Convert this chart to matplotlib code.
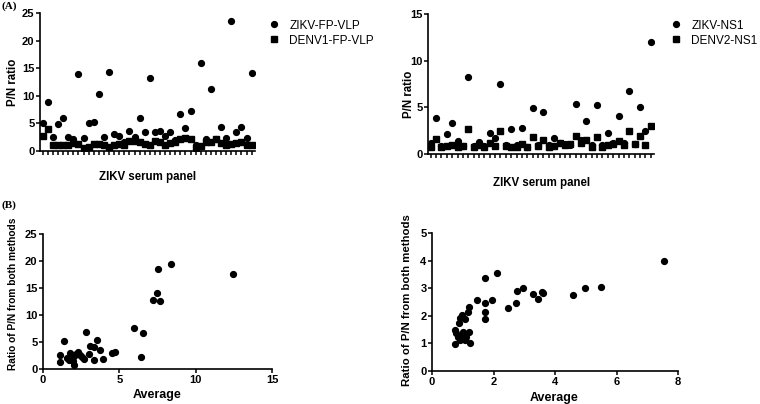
import numpy as np
import matplotlib
matplotlib.use("Agg")
import matplotlib.pyplot as plt

plt.rcParams['font.family'] = ['Liberation Sans', 'DejaVu Sans']

# (A) left: P/N ratio per ZIKV serum sample
zikv_fp_vlp = [5.1, 8.9, 2.5, 4.9, 5.9, 2.5, 2.2, 14.0, 2.3, 5.0, 5.3, 10.4, 2.5, 14.3,
               3.0, 2.7, 1.6, 3.6, 2.5, 5.9, 3.5, 13.3, 3.5, 3.6, 2.7, 3.4, 2.0, 6.7,
               4.2, 7.2, 1.0, 15.9, 2.2, 11.3, 2.2, 4.4, 2.4, 23.5, 3.5, 4.4, 2.4, 14.1]
denv1_fp_vlp = [2.7, 4.0, 1.0, 1.1, 1.1, 1.0, 1.4, 1.2, 0.5, 0.8, 1.3, 1.3, 1.1, 0.8,
                1.1, 1.2, 1.1, 1.9, 1.9, 1.7, 1.2, 1.0, 1.9, 1.7, 1.1, 1.5, 1.7, 2.2,
                2.4, 2.2, 0.6, 0.9, 1.7, 1.6, 2.2, 1.5, 1.1, 1.2, 1.4, 1.6, 1.0, 1.1]

# (A) right
zikv_ns1 = [1.2, 3.85, 0.9, 2.1, 3.3, 1.4, 0.9, 8.3, 0.9, 1.3, 0.9, 2.2, 1.7, 7.45,
            1.0, 2.65, 1.0, 2.8, 0.8, 4.9, 1.0, 4.45, 1.0, 1.7, 1.2, 1.1, 1.0, 5.35,
            1.5, 3.5, 1.0, 5.3, 1.0, 2.3, 1.2, 4.1, 1.2, 6.75, 1.1, 5.0, 2.45, 12.05]
denv2_ns1 = [0.8, 1.6, 0.7, 0.9, 1.0, 0.8, 0.9, 2.7, 0.8, 1.0, 0.8, 1.2, 0.9, 2.5,
             0.9, 0.8, 0.7, 1.1, 0.7, 1.8, 0.9, 1.5, 0.8, 0.9, 1.2, 1.0, 1.1, 1.9,
             1.2, 1.5, 0.8, 1.8, 0.8, 1.0, 1.1, 1.4, 1.0, 2.45, 1.05, 1.95, 1.0, 3.0]

# (B) left: average vs ratio
avg_vlp = [1.09, 1.09, 1.40, 1.57, 1.68, 1.79, 1.86, 2.01, 1.97, 2.05, 2.18, 2.27, 2.45,
           2.55, 2.71, 2.84, 2.99, 3.06, 3.36, 3.36, 3.54, 3.76, 3.91, 4.52, 4.74, 5.94,
           6.42, 6.55, 7.18, 7.47, 7.53, 7.66, 8.36, 12.42]
ratio_vlp = [2.53, 1.30, 5.12, 2.04, 1.73, 2.96, 2.35, 2.35, 1.42, 0.80, 2.84, 3.09, 2.53,
             2.22, 1.85, 6.85, 2.84, 4.32, 4.01, 1.60, 5.43, 3.46, 1.91, 2.96, 3.15, 7.65,
             2.22, 6.73, 12.72, 14.01, 18.52, 12.65, 19.44, 17.53]

# (B) right
avg_ns1 = [1.72, 2.13, 1.45, 1.72, 1.96, 1.72, 1.72, 1.21, 1.17, 0.99, 0.90, 1.07, 0.87,
           0.74, 0.79, 0.96, 0.90, 1.07, 1.21, 1.12, 1.23, 0.76, 1.01, 0.86, 2.48, 2.72,
           2.75, 2.97, 3.29, 3.46, 3.57, 3.62, 4.58, 4.98, 5.50, 7.55]
ratio_ns1 = [3.36, 3.54, 2.57, 2.48, 2.57, 2.15, 1.88, 2.33, 2.15, 2.03, 1.93, 1.88, 1.75,
             1.50, 1.36, 1.30, 1.14, 1.14, 1.42, 1.24, 1.02, 0.97, 1.42, 1.24, 2.29, 2.45,
             2.91, 3.00, 2.79, 2.61, 2.85, 2.82, 2.75, 2.99, 3.06, 3.97]

W, H = 760, 404
fig = plt.figure(figsize=(W / 100, H / 100), dpi=100)


def rect(l, r, t, b):
    return [l / W, 1 - b / H, (r - l) / W, (b - t) / H]


def ftext(x, y, s, **kw):
    fig.text(x / W, 1 - y / H, s, **kw)


def style(ax):
    for s in ['top', 'right']:
        ax.spines[s].set_visible(False)
    for s in ['left', 'bottom']:
        ax.spines[s].set_linewidth(1.2)
    ax.tick_params(direction='out', length=3, width=1.1, labelsize=8, pad=1)
    for lab in ax.get_xticklabels() + ax.get_yticklabels():
        lab.set_fontweight('bold')


ms = 4.2
leg = dict(loc='upper left', bbox_transform=fig.transFigure, frameon=False,
           fontsize=8.5, handletextpad=0.85, handlelength=1.0, labelspacing=0.25)

# top left
ax1 = fig.add_axes(rect(40, 255, 13, 151))
x1 = np.arange(len(zikv_fp_vlp))
ax1.plot(x1, zikv_fp_vlp, 'o', color='black', ms=ms, label='ZIKV-FP-VLP')
ax1.plot(x1, denv1_fp_vlp, 's', color='black', ms=ms, label='DENV1-FP-VLP')
ax1.set_xlim(-0.55, len(x1) - 0.35)
ax1.set_ylim(0, 25)
ax1.set_yticks([0, 5, 10, 15, 20, 25])
ax1.set_xticks(x1)
ax1.set_xticklabels([])
style(ax1)
ax1.legend(bbox_to_anchor=(257 / W, 1 - 9 / H), **leg)

# top right
ax2 = fig.add_axes(rect(428, 654, 14, 154))
x2 = np.arange(len(zikv_ns1))
ax2.plot(x2, zikv_ns1, 'o', color='black', ms=ms, label='ZIKV-NS1')
ax2.plot(x2, denv2_ns1, 's', color='black', ms=ms, label='DENV2-NS1')
ax2.set_xlim(-0.5, len(x2) - 0.4)
ax2.set_ylim(0, 15)
ax2.set_yticks([0, 5, 10, 15])
ax2.set_xticks(x2)
ax2.set_xticklabels([])
style(ax2)
ax2.legend(bbox_to_anchor=(659 / W, 1 - 9 / H), **leg)

# bottom left
ax3 = fig.add_axes(rect(43, 272, 234, 369))
ax3.plot(avg_vlp, ratio_vlp, 'o', color='black', ms=ms)
ax3.set_xlim(0, 15)
ax3.set_ylim(0, 25)
ax3.set_xticks([0, 5, 10, 15])
ax3.set_yticks([0, 5, 10, 15, 20, 25])
style(ax3)

# bottom right
ax4 = fig.add_axes(rect(432, 678, 233, 371))
ax4.plot(avg_ns1, ratio_ns1, 'o', color='black', ms=ms)
ax4.set_xlim(0, 8)
ax4.set_ylim(0, 5)
ax4.set_xticks([0, 2, 4, 6, 8])
ax4.set_yticks([0, 1, 2, 3, 4, 5])
style(ax4)

lab = dict(fontweight='bold', ha='center', va='center')
ftext(148, 177, 'ZIKV serum panel', fontsize=8.3, **lab)
ftext(542, 183, 'ZIKV serum panel', fontsize=8.3, **lab)
ftext(13, 82, 'P/N ratio', rotation=90, fontsize=8.3, **lab)
ftext(409, 94, 'P/N ratio', rotation=90, fontsize=8.3, **lab)
ftext(157, 395, 'Average', fontsize=9, **lab)
ftext(554, 398, 'Average', fontsize=9, **lab)
ftext(13, 294, 'Ratio of P/N from both methods', rotation=90, fontsize=7.3, **lab)
ftext(407, 300, 'Ratio of P/N from both methods', rotation=90, fontsize=8.2, **lab)
ftext(1, 6, '(A)', family='Liberation Serif', fontsize=8, fontweight='bold', va='center')
ftext(1, 205, '(B)', family='Liberation Serif', fontsize=8, fontweight='bold', va='center')

fig.savefig('out.png', dpi=100)
